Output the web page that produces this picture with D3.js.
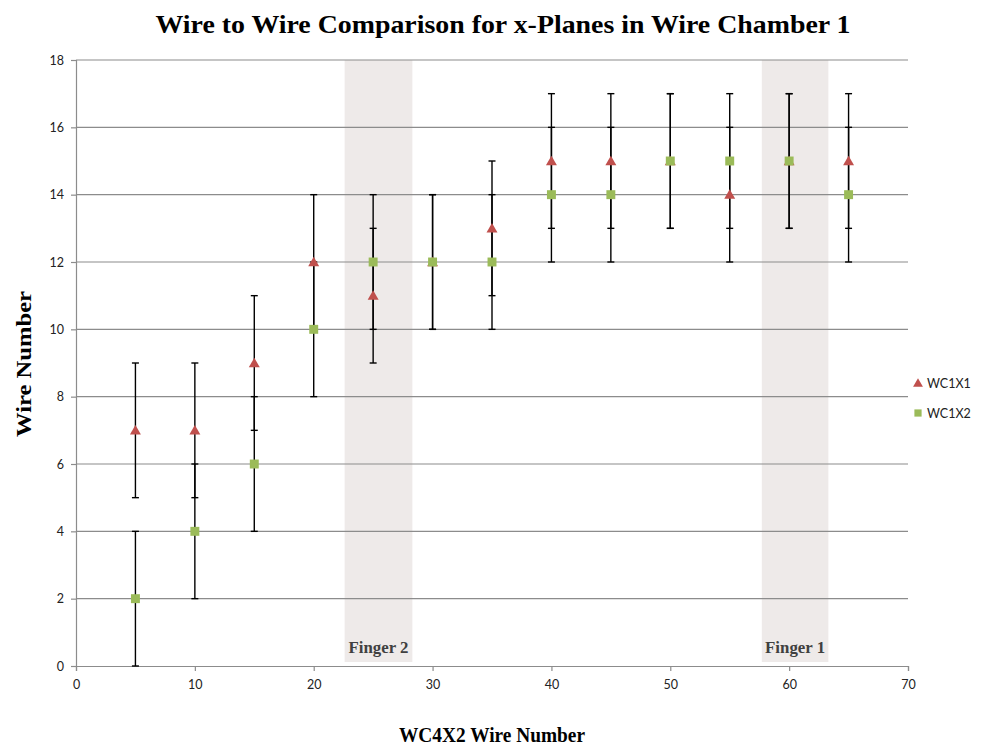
<!DOCTYPE html>
<html>
<head>
<meta charset="utf-8">
<script src="https://cdn.jsdelivr.net/npm/d3@7"></script>
<style>
  html, body { margin: 0; padding: 0; background: #fff; }
  svg { display: block; }
</style>
</head>
<body>
<svg id="chart" width="1003" height="747"></svg>
<script>
// WC4X2 wire positions and the matching wire hit in each x-plane of chamber 1
const wireX = [5, 10, 15, 20, 25, 30, 35, 40, 45, 50, 55, 60, 65];
const wc1x1 = [7, 7, 9, 12, 11, 12, 13, 15, 15, 15, 14, 15, 15];
const wc1x2 = [2, 4, 6, 10, 12, 12, 12, 14, 14, 15, 15, 15, 14];
const wc1x1Err = [2, 2, 2, 2, 2, 2, 2, 2, 2, 2, 2, 2, 2];
const wc1x2Err = [2, 2, 2, 2, 2, 2, 2, 2, 2, 2, 2, 2, 2];

// Finger regions of the scintillator, in WC4X2 wire units
const fingerLabels = ["Finger 2", "Finger 1"];
const fingerFrom = [22.6, 57.7];
const fingerTo = [28.3, 63.3];

const xTicks = [0, 10, 20, 30, 40, 50, 60, 70];
const yTicks = [0, 2, 4, 6, 8, 10, 12, 14, 16, 18];

const seriesNames = ["WC1X1", "WC1X2"];
const seriesColors = ["#C0504D", "#9BBB59"];

const svg = d3.select("#chart");
const plot = { left: 76, right: 908, top: 60, bottom: 666 };

const x = d3.scaleLinear().domain([0, 70]).range([plot.left, plot.right]);
const y = d3.scaleLinear().domain([0, 18]).range([plot.bottom, plot.top]);

const serif = "'Liberation Serif', 'DejaVu Serif', serif";
const sans = "Lato, 'Liberation Sans', sans-serif";

// Shaded finger bands
const fingers = fingerLabels.map((label, i) => ({ label, from: fingerFrom[i], to: fingerTo[i] }));
svg.append("g").selectAll("rect").data(fingers).join("rect")
  .attr("x", d => x(d.from))
  .attr("width", d => x(d.to) - x(d.from))
  .attr("y", y(18))
  .attr("height", y(0) - y(18) - 4)
  .attr("fill", "#EEEAE9");

// Horizontal gridlines
svg.append("g").selectAll("line").data(yTicks.filter(t => t > 0)).join("line")
  .attr("x1", plot.left).attr("x2", plot.right)
  .attr("y1", d => y(d)).attr("y2", d => y(d))
  .attr("stroke", "#8C8C8C").attr("stroke-width", 1.2);

svg.selectAll(".finger-label").data(fingers).join("text")
  .attr("class", "finger-label")
  .attr("x", d => (x(d.from) + x(d.to)) / 2)
  .attr("y", 653)
  .attr("text-anchor", "middle")
  .attr("font-family", serif)
  .attr("font-weight", "bold")
  .attr("font-size", 16)
  .attr("textLength", 60)
  .attr("lengthAdjust", "spacingAndGlyphs")
  .attr("fill", "#404040")
  .text(d => d.label);

// Axes
const xAxis = d3.axisBottom(x).tickValues(xTicks).tickSize(5).tickPadding(9);
const yAxis = d3.axisLeft(y).tickValues(yTicks).tickSize(5).tickPadding(7);

const gx = svg.append("g").attr("transform", `translate(0,${plot.bottom})`).call(xAxis);
const gy = svg.append("g").attr("transform", `translate(${plot.left},0)`).call(yAxis);
[gx, gy].forEach(g => {
  g.select(".domain").attr("stroke", "#8C8C8C").attr("stroke-width", 1.2);
  g.selectAll(".tick line").attr("stroke", "#8C8C8C").attr("stroke-width", 1.2);
  g.selectAll(".tick text").attr("font-family", sans).attr("font-size", 12.5).attr("fill", "#222");
});

// Error bars and markers
const rows = wireX.map((wx, i) => ({
  x: wx,
  v: [wc1x1[i], wc1x2[i]],
  e: [wc1x1Err[i], wc1x2Err[i]]
}));

const bars = svg.append("g").attr("stroke", "#000").attr("stroke-width", 1.4);
[0, 1].forEach(s => {
  rows.forEach(r => {
    const lo = r.v[s] - r.e[s], hi = r.v[s] + r.e[s];
    const cx = x(r.x);
    bars.append("line").attr("x1", cx).attr("x2", cx).attr("y1", y(lo)).attr("y2", y(hi));
    [lo, hi].forEach(v => {
      bars.append("line").attr("x1", cx - 3.5).attr("x2", cx + 3.5).attr("y1", y(v)).attr("y2", y(v));
    });
  });
});

const tri = d3.symbol().type(d3.symbolTriangle).size(52);
const sq = d3.symbol().type(d3.symbolSquare).size(80);

svg.append("g").selectAll("path").data(rows).join("path")
  .attr("d", tri)
  .attr("transform", d => `translate(${x(d.x)},${y(d.v[0]) + 1})`)
  .attr("fill", seriesColors[0]);

svg.append("g").selectAll("path").data(rows).join("path")
  .attr("d", sq)
  .attr("transform", d => `translate(${x(d.x)},${y(d.v[1])})`)
  .attr("fill", seriesColors[1]);

// Legend
const legend = svg.append("g");
seriesNames.forEach((name, i) => {
  const ly = 383 + i * 30;
  legend.append("path")
    .attr("d", i === 0 ? d3.symbol().type(d3.symbolTriangle).size(42)() : d3.symbol().type(d3.symbolSquare).size(52)())
    .attr("transform", `translate(918,${ly + (i === 0 ? 1 : 0)})`)
    .attr("fill", seriesColors[i]);
  legend.append("text")
    .attr("x", 927).attr("y", ly + 4.5)
    .attr("font-family", sans).attr("font-size", 12.5).attr("fill", "#222")
    .text(name);
});

// Titles
svg.append("text")
  .attr("x", 503).attr("y", 33)
  .attr("text-anchor", "middle")
  .attr("font-family", serif).attr("font-weight", "bold").attr("font-size", 26)
  .attr("textLength", 695).attr("lengthAdjust", "spacingAndGlyphs")
  .attr("fill", "#000")
  .text("Wire to Wire Comparison for x-Planes in Wire Chamber 1");

svg.append("text")
  .attr("x", 492).attr("y", 742)
  .attr("text-anchor", "middle")
  .attr("font-family", serif).attr("font-weight", "bold").attr("font-size", 20)
  .attr("textLength", 186).attr("lengthAdjust", "spacingAndGlyphs")
  .attr("fill", "#000")
  .text("WC4X2 Wire Number");

svg.append("text")
  .attr("transform", "translate(31,364) rotate(-90)")
  .attr("text-anchor", "middle")
  .attr("font-family", serif).attr("font-weight", "bold").attr("font-size", 20)
  .attr("textLength", 146).attr("lengthAdjust", "spacingAndGlyphs")
  .attr("fill", "#000")
  .text("Wire Number");
</script>
</body>
</html>
